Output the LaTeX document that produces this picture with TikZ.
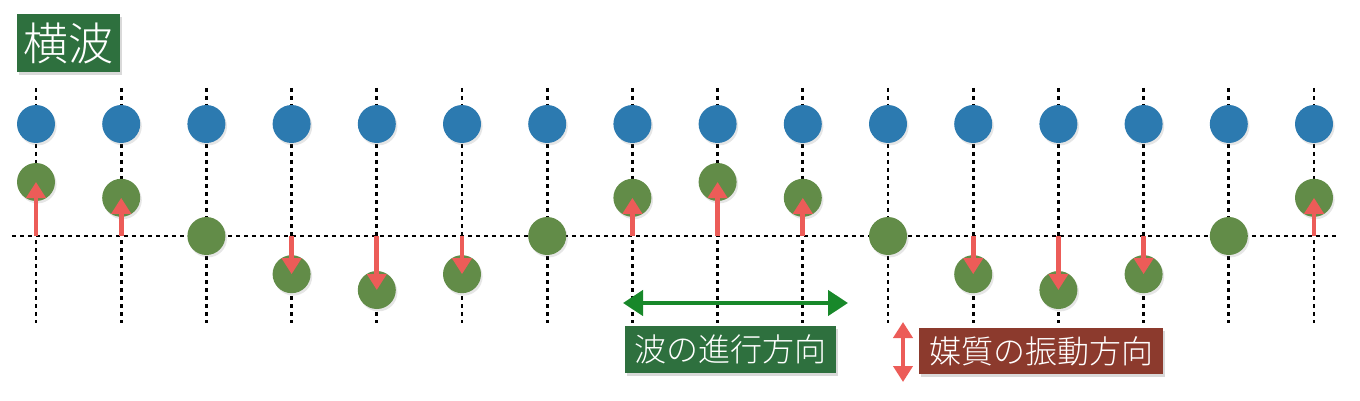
\documentclass[tikz,border=0pt]{standalone}
\usepackage{fontspec}
\setmainfont{Noto Sans CJK JP}[UprightFont={* Light}]
\usetikzlibrary{arrows.meta, shadows}
\definecolor{dotblue}{RGB}{44,122,176}
\definecolor{dotgreen}{RGB}{98,140,72}
\definecolor{labelgreen}{RGB}{46,112,62}
\definecolor{labelbrown}{RGB}{140,58,45}
\definecolor{arrowred}{RGB}{236,92,88}
\definecolor{arrowgreen}{RGB}{24,136,42}

\begin{document}
\begin{tikzpicture}[x=0.5pt, y=-0.5pt,
    grid/.style={line width=1.4pt, dash pattern=on 2pt off 2pt},
    dot/.style={circle, minimum size=19pt, inner sep=0pt,
        drop shadow={opacity=0.2, shadow xshift=0.8pt, shadow yshift=-1.2pt}},
    label/.style={text=white, inner sep=0pt,
        drop shadow={opacity=0.3, shadow xshift=0.8pt, shadow yshift=-1.5pt}},
    move/.style={arrowred, line width=2.4pt, -{Triangle[width=9.5pt, length=8pt]}}]
    \useasboundingbox (0,0) rectangle (1360,401);

    % title
    \node[label, fill=labelgreen, minimum width=51.5pt, minimum height=29pt,
        font=\fontsize{22.5}{22.5}\selectfont] (title) at (68.5,43) {横波};

    % grid
    \foreach \i in {0,...,15} {
        \pgfmathsetmacro\x{36+85.2*\i}
        \coordinate (t\i) at (\x,88);
        \coordinate (u\i) at (\x,323);
        \draw[grid] (t\i) -- (u\i);
    }
    \coordinate (hl) at (12,236);
    \coordinate (hr) at (1337,236);
    \draw[grid] (hl) -- (hr);

    % particles
    \foreach \i in {0,...,15} {
        \pgfmathsetmacro\x{36+85.2*\i}
        \pgfmathsetmacro\y{236-54*cos(45*\i)}
        \node[dot, fill=dotblue] (b\i) at (\x,124) {};
        \node[dot, fill=dotgreen] (g\i) at (\x,\y) {};
        \coordinate (a\i) at (\x,236);
    }
    \foreach \i in {0,1,3,4,5,7,8,9,11,12,13,15}
        \draw[move] (a\i) -- (g\i.center);

    % legend
    \coordinate (wl) at (623,303);
    \coordinate (wr) at (848,303);
    \draw[arrowgreen, line width=2.2pt, {Triangle[width=12.5pt, length=10pt]}-{Triangle[width=12.5pt, length=10pt]}] (wl) -- (wr);
    \node[label, fill=labelgreen, minimum width=105.5pt, minimum height=23.5pt,
        font=\fontsize{16}{16}\selectfont] (wave) at (730.5,349.5) {波の進行方向};

    \coordinate (vt) at (903,322);
    \coordinate (vb) at (903,382);
    \draw[arrowred, line width=2.4pt, {Triangle[width=9.5pt, length=8pt]}-{Triangle[width=9.5pt, length=8pt]}] (vt) -- (vb);
    \node[label, fill=labelbrown, minimum width=122pt, minimum height=23pt,
        font=\fontsize{16}{16}\selectfont] (medium) at (1041,351) {媒質の振動方向};
\end{tikzpicture}
\end{document}
